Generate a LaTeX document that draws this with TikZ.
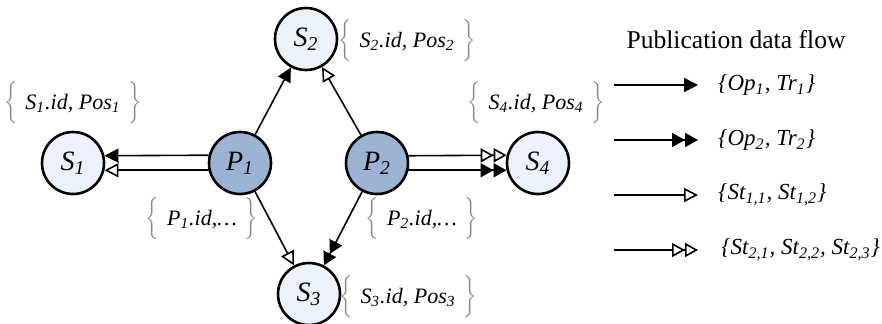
\documentclass[tikz,border=0pt]{standalone}
\usepackage{fontspec}
\usepackage{graphicx}
\setmainfont{Liberation Serif}
\usetikzlibrary{arrows.meta}
\definecolor{pubfill}{HTML}{9DB3D4}
\definecolor{subfill}{HTML}{EBF2FB}
\definecolor{bracegray}{HTML}{8A8A8A}
\newcommand{\infobrace}[1]{\scalebox{1}[1.17]{$\color{bracegray}\Big\{$}\hspace{4pt}#1\hspace{4pt}\scalebox{1}[1.17]{$\color{bracegray}\Big\}$}}
\tikzset{
  node/.style={circle, draw=black, line width=1.3pt, minimum size=31pt, inner sep=0pt,
               font=\fontsize{14}{16}\selectfont\itshape},
  pub/.style={node, fill=pubfill},
  sub/.style={node, fill=subfill},
  info/.style={font=\fontsize{11}{13}\selectfont\itshape, inner sep=0pt},
  flow/.style={line width=0.8pt},
  opone/.style={flow, -{Triangle[length=7pt,width=7pt]}},
  optwo/.style={flow, -{Triangle[length=6.5pt,width=7pt]Triangle[length=6.5pt,width=7pt]}},
  stone/.style={flow, -{Triangle[open,length=7pt,width=7pt,fill=white]}},
  sttwo/.style={flow, -{Triangle[open,length=6.5pt,width=7pt,fill=white]Triangle[open,length=6.5pt,width=7pt,fill=white]}},
  legtext/.style={font=\fontsize{11.5}{13}\selectfont\itshape, anchor=west, inner sep=0pt},
}
\begin{document}
\begin{tikzpicture}[x=0.5pt, y=-0.5pt]
  \useasboundingbox (0,0) rectangle (882,323);

  % nodes
  \node[sub] (S1) at (73,163) {S\textsubscript{1}};
  \node[pub] (P1) at (240,163) {P\textsubscript{1}};
  \node[sub] (S2) at (306,39) {S\textsubscript{2}};
  \node[pub] (P2) at (377,163) {P\textsubscript{2}};
  \node[sub] (S4) at (538,163) {S\textsubscript{4}};
  \node[sub] (S3) at (309,294) {S\textsubscript{3}};

  % node information
  \node[info] (iS1) at (73,103) {\infobrace{S\textsubscript{1}.id, Pos\textsubscript{1}}};
  \node[info] (iS2) at (407,41) {\infobrace{S\textsubscript{2}.id, Pos\textsubscript{2}}};
  \node[info] (iS4) at (536,103) {\infobrace{S\textsubscript{4}.id, Pos\textsubscript{4}}};
  \node[info] (iP1) at (202,219) {\infobrace{P\textsubscript{1}.id,\ldots}};
  \node[info] (iP2) at (422,219) {\infobrace{P\textsubscript{2}.id,\ldots}};
  \node[info] (iS3) at (408,297) {\infobrace{S\textsubscript{3}.id, Pos\textsubscript{3}}};

  % publication flows
  \draw[opone] (P1.166.5) -- (S1.13.5);
  \draw[stone] (P1.193.5) -- (S1.-13.5);
  \draw[opone] (P1) -- (S2);
  \draw[stone] (P2) -- (S2);
  \draw[stone] (P1) -- (S3);
  \draw[optwo] (P2) -- (S3);
  \draw[sttwo] (P2.13.5) -- (S4.166.5);
  \draw[optwo] (P2.-13.5) -- (S4.193.5);

  % legend
  \node[font=\fontsize{12.8}{15}\selectfont, inner sep=0pt] (ltitle) at (736,40) {Publication data flow};
  \coordinate (a1) at (614,85);  \coordinate (b1) at (698,85);
  \coordinate (a2) at (614,140); \coordinate (b2) at (698,140);
  \coordinate (a3) at (614,195); \coordinate (b3) at (698,195);
  \coordinate (a4) at (614,250); \coordinate (b4) at (698,250);
  \draw[opone] (a1) -- (b1);
  \draw[optwo] (a2) -- (b2);
  \draw[stone] (a3) -- (b3);
  \draw[sttwo] (a4) -- (b4);
  \node[legtext] (l1) at (718,85) {\{Op\textsubscript{1}, Tr\textsubscript{1}\}};
  \node[legtext] (l2) at (718,140) {\{Op\textsubscript{2}, Tr\textsubscript{2}\}};
  \node[legtext] (l3) at (718,195) {\{St\textsubscript{1,1}, St\textsubscript{1,2}\}};
  \node[legtext] (l4) at (721,250) {\{St\textsubscript{2,1}, St\textsubscript{2,2}, St\textsubscript{2,3}\}};
\end{tikzpicture}
\end{document}
